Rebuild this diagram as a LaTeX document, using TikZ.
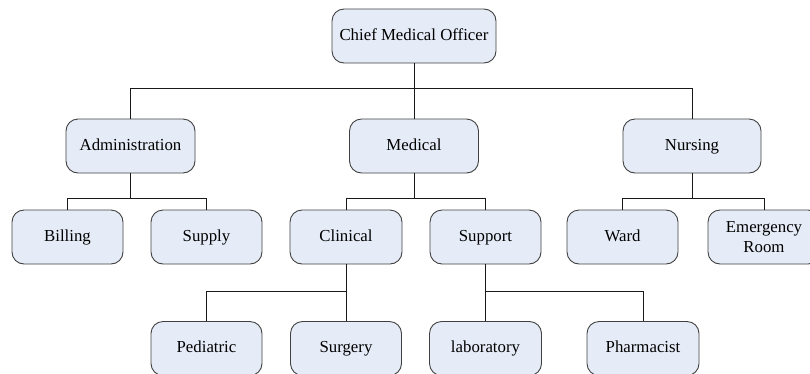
\documentclass[tikz,border=0pt]{standalone}
\usepackage{fontspec}
\setmainfont{Liberation Serif}
\begin{document}
\begin{tikzpicture}[x=1pt,y=-1pt,
  unitbox/.style={draw=black!75, line width=0.9pt, fill=boxfill, rounded corners=12pt,
    minimum height=54pt, inner sep=2pt, align=center,
    font=\fontsize{16.8}{19.5}\selectfont},
  unit/.style={unitbox, text height=11.8pt, text depth=3.6pt},
  link/.style={draw=black!90, line width=0.9pt}]
\definecolor{boxfill}{RGB}{230,236,247}
\useasboundingbox (0,0) rectangle (810,373);
\clip (0,0) rectangle (810,373);

% top level
\node[unit, minimum width=164pt] (chief) at (414,36) {Chief Medical Officer};

% departments
\node[unit, minimum width=129pt] (admin)   at (130.5,146) {Administration};
\node[unit, minimum width=129pt] (medical) at (414,146)   {Medical};
\node[unit, minimum width=138pt] (nursing) at (692,146)   {Nursing};

% sections
\node[unit, minimum width=111pt] (billing)   at (67.5,237)  {Billing};
\node[unit, minimum width=111pt] (supply)    at (206.5,237) {Supply};
\node[unit, minimum width=112pt] (clinical)  at (346,237)   {Clinical};
\node[unit, minimum width=111pt] (support)   at (485.5,237) {Support};
\node[unit, minimum width=111pt] (ward)      at (622.5,237) {Ward};
\node[unitbox, minimum width=112pt] (emergency) at (764,237) {Emergency\\Room};

% units
\node[unit, minimum width=111pt] (pediatric)  at (206.5,348.5) {Pediatric};
\node[unit, minimum width=111pt] (surgery)    at (346,348.5)   {Surgery};
\node[unit, minimum width=112pt] (laboratory) at (485.5,348.5) {laboratory};
\node[unit, minimum width=112pt] (pharmacist) at (643,348.5)   {Pharmacist};

% connectors (yshift is in absolute points, so negative means down)
\draw[link] (chief.south) -- (medical.north);
\draw[link] (admin.north) |- ([yshift=-25pt]chief.south) -| (nursing.north);

\draw[link] (admin.south) -- ++(0,25);
\draw[link] (billing.north) |- ([yshift=-25pt]admin.south) -| (supply.north);
\draw[link] (medical.south) -- ++(0,25);
\draw[link] (clinical.north) |- ([yshift=-25pt]medical.south) -| (support.north);
\draw[link] (nursing.south) -- ++(0,25);
\draw[link] (ward.north) |- ([yshift=-25pt]nursing.south) -| (emergency.north);

\draw[link] (clinical.south) -- (surgery.north);
\draw[link] (pediatric.north) |- ([yshift=-27pt]clinical.south);
\draw[link] (support.south) -- (laboratory.north);
\draw[link] ([yshift=-27pt]support.south) -| (pharmacist.north);
\end{tikzpicture}
\end{document}
